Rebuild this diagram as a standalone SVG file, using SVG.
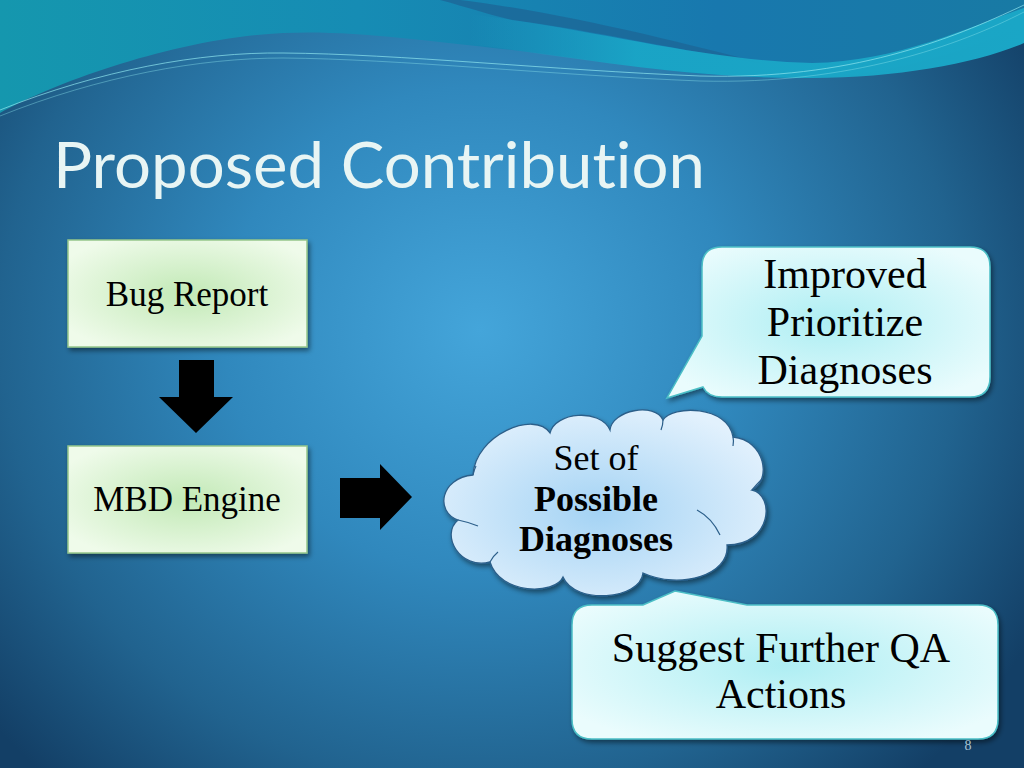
<svg xmlns="http://www.w3.org/2000/svg" width="1024" height="768" viewBox="0 0 1024 768">
  <defs>
    <style>
      .lbl { font-family: "Liberation Serif", "DejaVu Serif", serif; fill: #000; text-anchor: middle; }
      .box { stroke: #95c68a; stroke-width: 1.5; fill: url(#gBox); filter: url(#sh); }
      .call { stroke: #4cbfc6; stroke-width: 1.5; fill: url(#gCall); filter: url(#sh); }
      .arrow { fill: #000; }
      .inner { fill: none; stroke: #2c5f8a; stroke-width: 1.2; }
    </style>
    <radialGradient id="gBg" gradientUnits="userSpaceOnUse" cx="480" cy="330" r="640" gradientTransform="translate(480 330) scale(1 0.95) translate(-480 -330)">
      <stop offset="0" stop-color="#44a5da"/>
      <stop offset="0.4" stop-color="#3088bd"/>
      <stop offset="0.75" stop-color="#21638f"/>
      <stop offset="1" stop-color="#133f66"/>
    </radialGradient>
    <linearGradient id="gTop" x1="0" y1="0" x2="1" y2="0">
      <stop offset="0" stop-color="#1597ae"/>
      <stop offset="0.35" stop-color="#168cb4"/>
      <stop offset="0.7" stop-color="#1878ae"/>
      <stop offset="1" stop-color="#187aa4"/>
    </linearGradient>
    <linearGradient id="gBand" x1="0" y1="0" x2="1" y2="0">
      <stop offset="0" stop-color="#1aa8c8" stop-opacity="0"/>
      <stop offset="0.3" stop-color="#1aa8c8" stop-opacity="0.9"/>
      <stop offset="1" stop-color="#1aa6c6"/>
    </linearGradient>
    <radialGradient id="gBox" cx="0.5" cy="0.5" r="0.6">
      <stop offset="0" stop-color="#c2e9b6"/>
      <stop offset="1" stop-color="#effbea"/>
    </radialGradient>
    <radialGradient id="gCall" cx="0.5" cy="0.5" r="0.6">
      <stop offset="0" stop-color="#aeeef3"/>
      <stop offset="1" stop-color="#eafcfd"/>
    </radialGradient>
    <radialGradient id="gCloud" cx="0.48" cy="0.55" r="0.6">
      <stop offset="0" stop-color="#a4d3f4"/>
      <stop offset="1" stop-color="#e2f1fd"/>
    </radialGradient>
    <filter id="sh" x="-10%" y="-10%" width="125%" height="130%">
      <feDropShadow dx="2" dy="3" stdDeviation="2.5" flood-color="#000" flood-opacity="0.45"/>
    </filter>
  </defs>

  <!-- background -->
  <rect x="0" y="0" width="1024" height="768" fill="url(#gBg)"/>
  <path d="M0,0 H1024 V25 C980,45 900,75 812,78 C700,80 600,60 512,50 C420,40 350,30 283,33 C180,38 60,80 0,113 Z" fill="url(#gTop)"/>
  <path d="M460,0 C560,12 680,42 765,64 C690,52 590,30 512,20 C490,15 470,8 440,0 Z" fill="#1d6797" opacity="0.8"/>
  <path d="M470,14 C600,30 700,60 812,63 C900,62 980,22 1024,8 V43 C980,62 900,78 812,78 C700,79 600,62 470,44 Z" fill="url(#gBand)"/>
  <path d="M0,110 C100,70 200,52 283,53 C400,54 550,70 700,76 C850,80 950,40 1024,5" fill="none" stroke="#8fe6ee" stroke-width="1" opacity="0.7"/>
  <path d="M0,116 C100,76 200,58 283,58 C400,59 550,75 700,81 C850,85 960,45 1024,12" fill="none" stroke="#8fe6ee" stroke-width="0.8" opacity="0.5"/>

  <!-- title -->
  <text x="53" y="188" font-family="Lato, 'Open Sans', sans-serif" font-size="64" fill="#e8f5f4" style="font-variant-ligatures: none; font-feature-settings: 'liga' 0, 'clig' 0;" textLength="652" lengthAdjust="spacingAndGlyphs">Proposed Contribution</text>

  <!-- connectors -->
  <g id="connectors">
    <polygon class="arrow" points="179,360 214,360 214,397 233,397 196,433 159,397 179,397"/>
    <polygon class="arrow" points="340,478 380,478 380,464 412,497 380,530 380,518 340,518"/>
  </g>

  <g id="bug-report">
    <rect class="box" x="68" y="240" width="239" height="107"/>
    <text class="lbl" x="187" y="306" font-size="35">Bug Report</text>
  </g>

  <g id="mbd-engine">
    <rect class="box" x="68" y="446" width="239" height="107"/>
    <text class="lbl" x="187" y="511" font-size="35">MBD Engine</text>
  </g>

  <g id="possible-diagnoses">
    <path d="M458,520 C435,512 440,478 473,475 C475,435 535,410 550,433 C555,412 600,408 610,430 C612,410 655,402 663,420 C672,405 728,405 733,437 C765,440 772,480 752,490 C775,495 772,545 727,545 C730,575 680,590 643,573 C640,600 575,605 563,577 C555,595 500,595 490,562 C460,570 440,535 458,520 Z" fill="url(#gCloud)" stroke="#2c5f8a" stroke-width="1.3" filter="url(#sh)"/>
    <path class="inner" d="M458,520 Q468,522 478,526"/>
    <path class="inner" d="M490,562 Q493,556 498,552"/>
    <path class="inner" d="M720,535 Q712,518 697,510"/>
    <path class="inner" d="M752,490 Q757,484 763,478"/>
    <path class="inner" d="M473,475 Q474,470 476,466"/>
    <path class="inner" d="M663,420 Q663,425 661,430"/>
    <path class="inner" d="M733,437 Q734,441 733,446"/>
    <text class="lbl" x="596" y="470" font-size="36">Set of</text>
    <text class="lbl" x="596" y="511" font-size="36" font-weight="bold">Possible</text>
    <text class="lbl" x="596" y="551" font-size="36" font-weight="bold">Diagnoses</text>
  </g>

  <g id="improved-prioritize">
    <path class="call" d="M722,247 H970 Q990,247 990,267 V377 Q990,397 970,397 H722 Q708,397 703,387 L667,398 L702,336 V267 Q702,247 722,247 Z"/>
    <text class="lbl" x="845" y="288" font-size="42">Improved</text>
    <text class="lbl" x="845" y="336" font-size="42">Prioritize</text>
    <text class="lbl" x="845" y="384" font-size="42">Diagnoses</text>
  </g>

  <g id="suggest-qa">
    <path class="call" d="M592,605 H643 L675,591 L747,605 H978 Q998,605 998,625 V719 Q998,739 978,739 H592 Q572,739 572,719 V625 Q572,605 592,605 Z"/>
    <text class="lbl" x="781" y="662" font-size="42">Suggest Further QA</text>
    <text class="lbl" x="781" y="708" font-size="42">Actions</text>
  </g>

  <text x="968" y="750" font-family="'Liberation Serif', serif" font-size="14" fill="#a9c4d6" text-anchor="middle">8</text>
</svg>
